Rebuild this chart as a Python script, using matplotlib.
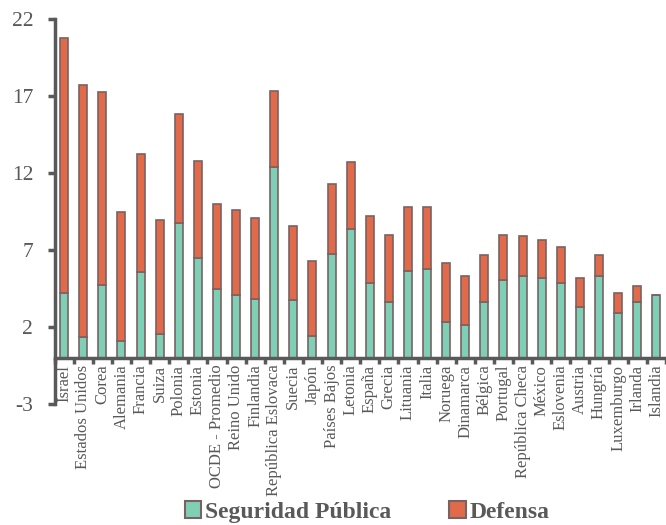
import matplotlib
matplotlib.use("Agg")
import matplotlib.pyplot as plt
import numpy as np
from matplotlib.patches import Patch

paises = ["Israel", "Estados Unidos", "Corea", "Alemania", "Francia", "Suiza",
          "Polonia", "Estonia", "OCDE - Promedio", "Reino Unido", "Finlandia",
          "República Eslovaca", "Suecia", "Japón", "Países Bajos", "Letonia",
          "España", "Grecia", "Lituania", "Italia", "Noruega", "Dinamarca",
          "Bélgica", "Portugal", "República Checa", "México", "Eslovenia",
          "Austria", "Hungría", "Luxemburgo", "Irlanda", "Islandia"]

seguridad_publica = [4.24, 1.32, 4.74, 1.11, 5.54, 1.54, 8.76, 6.45, 4.44, 4.05,
                     3.85, 12.37, 3.75, 1.39, 6.73, 8.35, 4.85, 3.62, 5.65, 5.76,
                     2.34, 2.15, 3.62, 5.06, 5.32, 5.15, 4.85, 3.33, 5.32, 2.92,
                     3.62, 4.07]

total = [20.74, 17.71, 17.24, 9.49, 13.22, 8.98, 15.83, 12.80, 9.99, 9.60,
         9.09, 17.34, 8.59, 6.28, 11.31, 12.70, 9.20, 7.98, 9.80, 9.80,
         6.17, 5.28, 6.69, 7.98, 7.90, 7.68, 7.19, 5.19, 6.69, 4.18,
         4.68, 4.07]

defensa = [t - s for t, s in zip(total, seguridad_publica)]

y_ticks = [-3, 2, 7, 12, 17, 22]

verde = "#7fcfb6"
naranja = "#e06a4a"
borde = "#7a6262"
gris = "#595959"

plt.rcParams["font.family"] = ["Liberation Serif", "DejaVu Serif"]

fig = plt.figure(figsize=(6.66, 5.25), dpi=100)
n = len(paises)
ancho_cat = 19.1 / 666
izq = 54.6 / 666
ax = fig.add_axes([izq, 1 - 404 / 525, n * ancho_cat, (404 - 19) / 525])

x = np.arange(n)
ax.bar(x, seguridad_publica, width=0.42, color=verde, edgecolor=borde, linewidth=1.2, zorder=3)
ax.bar(x, defensa, width=0.42, bottom=seguridad_publica, color=naranja,
       edgecolor=borde, linewidth=1.2, zorder=3)

ax.set_xlim(-0.5, n - 0.5)
ax.set_ylim(-3, 22)
ax.set_yticks(y_ticks)
ax.set_yticklabels([str(v) for v in y_ticks], fontsize=15.5, color=gris)

for s in ["top", "right"]:
    ax.spines[s].set_visible(False)
ax.spines["bottom"].set_position(("data", 0))
ax.spines["bottom"].set_color(gris)
ax.spines["bottom"].set_linewidth(2.5)
ax.spines["left"].set_color(gris)
ax.spines["left"].set_linewidth(2.5)
ax.spines["bottom"].set_zorder(4)

ax.tick_params(axis="y", direction="out", length=5, width=2.5, color=gris, pad=10.5)

# category ticks sit between bars; labels sit under each bar
ax.set_xticks(np.arange(n + 1) - 0.5)
ax.set_xticklabels([])
ax.tick_params(axis="x", which="major", direction="out", length=4, width=2.5, color=gris)
ax.set_xticks(x, minor=True)
ax.set_xticklabels(paises, minor=True, rotation=90, fontsize=12, color=gris)
ax.tick_params(axis="x", which="minor", length=0, pad=5)

handles = [Patch(facecolor=verde, edgecolor=borde, linewidth=1.5, label="Seguridad Pública"),
           Patch(facecolor=naranja, edgecolor=borde, linewidth=1.5, label="Defensa")]
fig.legend(handles=handles, loc="center", bbox_to_anchor=(367 / 666, 1 - 512 / 525),
           ncol=2, frameon=False, handlelength=0.7, handleheight=0.7,
           handletextpad=0.15, columnspacing=2.45, borderpad=0,
           prop={"weight": "bold", "size": 17, "family": ["Liberation Serif"]},
           labelcolor=gris)

fig.savefig("out.png", dpi=100)
